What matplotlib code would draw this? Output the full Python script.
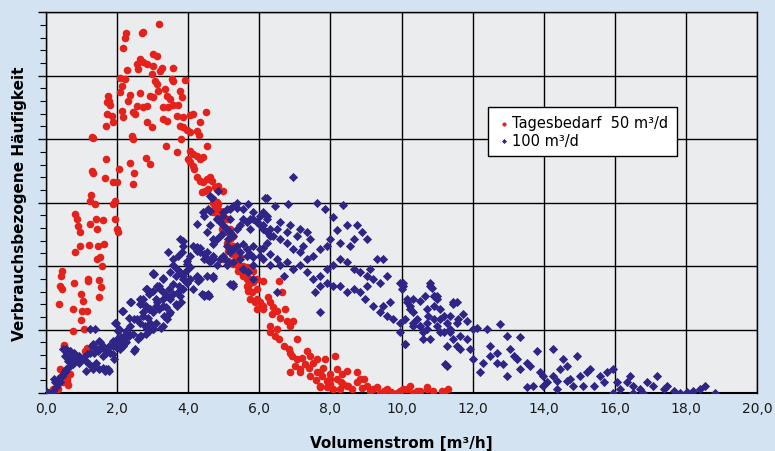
import matplotlib
matplotlib.use("Agg")
import matplotlib.pyplot as plt
from matplotlib.ticker import MultipleLocator, FixedLocator

# Tagesbedarf 50 m3/d  (x = Volumenstrom, y = relative Haeufigkeit)
red_x = [3.18, 2.25, 2.22, 2.73, 2.70, 2.17, 3.01, 3.12, 2.64, 2.56, 2.73, 2.59, 2.84, 3.01, 3.26, 3.57,
         3.21, 2.28, 2.08, 2.22, 2.98, 3.07, 3.12, 3.54, 3.57, 3.91, 2.14, 2.08, 1.74, 1.77, 1.72, 1.80,
         2.36, 2.31, 2.56, 2.64, 2.73, 2.84, 2.93, 3.01, 3.15, 3.35, 3.40, 3.49, 3.57, 3.77, 3.83, 3.71,
         3.29, 3.43, 1.72, 1.86, 1.88, 1.69, 2.14, 2.17, 2.45, 2.50, 3.29, 3.40, 2.84, 2.98, 3.68, 3.85,
         4.05, 4.14, 3.77, 3.85, 3.97, 4.05, 4.50, 4.33, 4.25, 4.30, 1.32, 1.30, 2.42, 2.45, 3.38, 3.68,
         3.80, 4.05, 4.14, 4.25, 4.33, 4.42, 4.53, 4.00, 4.05, 4.14, 2.81, 2.93, 2.36, 1.69, 1.29, 1.32,
         2.05, 2.00, 1.88, 1.66, 2.48, 2.45, 4.16, 4.25, 4.33, 4.42, 4.53, 4.61, 4.67, 4.39, 4.47, 4.56,
         4.75, 4.84, 4.98, 4.70, 4.81, 4.75, 4.84, 1.27, 1.24, 1.38, 1.94, 1.88, 1.94, 2.00, 2.03, 0.82,
         0.87, 0.90, 0.96, 1.41, 1.43, 1.60, 1.24, 0.96, 0.82, 1.21, 1.63, 1.46, 1.52, 1.58, 1.43, 0.45,
         0.42, 0.39, 0.45, 0.37, 1.18, 1.18, 0.79, 0.98, 1.04, 1.01, 1.15, 0.98, 1.49, 1.55, 1.49, 0.76,
         0.76, 1.07, 0.51, 1.15, 1.10, 0.68, 0.59, 0.62, 0.45, 0.34, 0.11, 0.51, 0.68, 0.56, 0.59, 0.48,
         0.20, 0.31, 0.39,
         4.70, 4.84, 4.98, 4.95, 5.09, 5.18, 5.26, 5.12, 5.23, 5.37, 5.46, 5.40, 5.54, 5.65, 5.74, 5.65,
         5.82, 5.94, 5.68, 5.74, 5.88, 5.94, 4.71, 4.80, 4.89, 4.99, 5.08, 5.18, 5.27, 5.08, 5.22, 5.32,
         5.46, 4.99, 5.13, 5.27, 5.41, 5.55, 5.64, 5.74, 5.83, 5.46, 5.55, 5.64, 5.74, 5.93, 6.11, 6.54,
         6.63, 5.69, 5.79, 5.93, 6.02, 6.11, 6.25, 6.30, 6.39, 6.49, 6.72, 6.96, 6.77, 6.86, 6.58, 6.35,
         6.11, 6.30, 6.44, 6.54, 6.68, 6.82, 7.05, 6.91, 7.05, 7.19, 7.33, 7.43, 7.00, 7.14, 7.29, 7.52,
         7.61, 7.76, 7.90, 7.99, 8.13, 8.18, 8.32, 8.36, 8.50, 7.71, 6.86, 6.30, 6.49,
         9.86, 9.96, 10.15, 10.33, 10.52, 10.71, 10.89, 11.13, 11.32, 9.58, 9.40, 9.21, 9.02, 8.93, 8.74,
         8.46, 8.27, 8.18, 8.08, 7.90, 7.71, 8.46, 7.85, 7.61, 7.71, 7.43, 7.14, 6.86, 8.74, 8.83,
         10.04, 10.24, 10.43, 10.71, 11.18, 8.00, 8.60, 8.90, 9.10, 9.30, 9.50, 9.70, 8.30, 7.60, 7.40,
         7.80, 8.00]
red_y = [5.82, 5.67, 5.59, 5.69, 5.67, 5.43, 5.34, 5.31, 5.26, 5.18, 5.21, 5.10, 5.18, 5.15, 5.12, 5.12,
         5.07, 5.09, 4.96, 4.94, 5.02, 4.91, 4.87, 4.94, 4.91, 4.93, 4.83, 4.74, 4.68, 4.60, 4.58, 4.54,
         4.69, 4.60, 4.52, 4.72, 4.50, 4.52, 4.68, 4.66, 4.76, 4.79, 4.68, 4.63, 4.54, 4.76, 4.66, 4.54,
         4.50, 4.50, 4.39, 4.36, 4.27, 4.20, 4.44, 4.35, 4.42, 4.39, 4.31, 4.28, 4.27, 4.19, 4.36, 4.35,
         4.38, 4.39, 4.20, 4.19, 4.14, 4.11, 4.42, 4.27, 4.13, 4.06, 4.02, 4.04, 4.05, 4.00, 3.89, 3.80,
         4.00, 3.81, 3.76, 3.73, 3.69, 3.72, 3.89, 3.69, 3.64, 3.57, 3.70, 3.61, 3.62, 3.69, 3.50, 3.46,
         3.53, 3.32, 3.32, 3.39, 3.46, 3.29, 3.53, 3.40, 3.34, 3.32, 3.37, 3.40, 3.34, 3.17, 3.18, 3.21,
         3.24, 3.26, 3.18, 3.06, 3.01, 2.93, 2.98, 3.12, 3.02, 2.98, 3.02, 2.98, 2.74, 2.58, 2.54, 2.82,
         2.74, 2.63, 2.54, 2.74, 2.58, 2.72, 2.66, 2.31, 2.22, 2.33, 2.35, 2.31, 2.14, 2.00, 2.11, 1.92,
         1.84, 1.69, 1.64, 1.40, 1.80, 1.76, 1.73, 1.56, 1.45, 1.29, 1.29, 1.15, 1.78, 1.67, 1.51, 1.32,
         0.98, 1.01, 0.74, 0.71, 0.66, 0.30, 0.17, 0.13, 0.25, 0.06, 0.02, 0.76, 0.54, 0.27, 0.22, 0.17,
         0.06, 0.11, 0.38,
         2.85, 2.77, 2.74, 2.58, 2.54, 2.43, 2.31, 2.24, 2.19, 2.11, 2.00, 1.92, 1.87, 1.83, 1.80, 1.69,
         1.75, 1.64, 1.61, 1.48, 1.43, 1.32, 3.00, 2.95, 2.87, 2.79, 2.74, 2.58, 2.48, 2.37, 2.27, 2.22,
         2.14, 2.11, 2.08, 2.03, 2.00, 2.00, 1.98, 1.95, 1.93, 1.93, 1.85, 1.80, 1.74, 1.80, 1.77, 1.77,
         1.59, 1.66, 1.59, 1.48, 1.43, 1.37, 1.51, 1.43, 1.35, 1.30, 1.32, 1.14, 1.14, 1.06, 1.19, 1.24,
         1.32, 0.96, 0.90, 0.85, 0.74, 0.69, 0.85, 0.59, 0.54, 0.56, 0.67, 0.59, 0.43, 0.38, 0.46, 0.48,
         0.33, 0.27, 0.19, 0.22, 0.59, 0.38, 0.30, 0.14, 0.11, 0.09, 0.33, 1.06, 1.01,
         0.01, 0.04, 0.06, 0.01, 0.04, 0.06, 0.04, 0.04, 0.06, 0.06, 0.01, 0.06, 0.11, 0.22, 0.17,
         0.11, 0.06, 0.22, 0.06, 0.09, 0.11, 0.35, 0.54, 0.54, 0.33, 0.27, 0.33, 0.64, 0.33, 0.22,
         0.06, 0.11, 0.04, 0.09, 0.02, 0.14, 0.06, 0.08, 0.03, 0.10, 0.04, 0.02, 0.18, 0.20, 0.40,
         0.40, 0.30]

# 100 m3/d
blue_x = [0.19, 0.28, 0.38, 0.23, 0.42, 0.52, 0.56, 0.66, 0.75, 0.61, 0.70, 0.84, 0.94, 1.03, 0.80, 0.56,
          0.66, 0.94, 1.13, 1.22, 1.31, 1.41, 1.50, 1.59, 1.69, 1.78, 1.36, 1.45, 1.55, 1.64, 1.31, 1.50,
          1.69, 1.88, 1.92, 1.97, 2.06, 2.16, 2.25, 2.20, 2.34, 2.44, 2.48, 2.58, 2.67, 2.81, 2.91, 3.00,
          2.77, 2.63, 2.48, 2.34, 2.16, 2.39, 2.63, 2.81, 2.91, 3.00, 2.72, 3.09, 3.19, 3.38, 3.47, 3.33,
          3.23, 3.09, 2.86, 1.97, 2.06, 2.25, 2.11, 1.88, 1.78, 1.59, 1.31, 1.13, 3.05, 3.28, 3.66, 3.84,
          3.75, 3.94, 3.56, 3.47, 3.19, 3.00, 3.09, 3.28, 3.56, 3.70, 3.80, 3.66, 2.91, 2.72, 2.81,
          3.44, 3.58, 3.72, 3.86, 3.82, 3.96, 4.05, 4.14, 4.24, 4.33, 4.43, 4.52, 4.61, 4.71, 4.24, 4.43,
          4.61, 4.66, 4.80, 4.89, 4.99, 5.08, 5.18, 5.27, 5.36, 5.46, 5.18, 4.99, 5.08, 5.27, 5.36, 5.55,
          5.64, 5.74, 5.83, 5.93, 6.02, 6.11, 6.21, 6.30, 6.11, 6.21, 5.69, 6.16, 3.58, 3.68, 3.77, 3.86,
          4.05, 4.14, 4.24, 4.33, 4.52, 4.71, 4.43, 4.57, 3.96, 4.05, 3.49, 3.30, 3.02, 5.27, 4.80, 4.99,
          5.08, 5.18, 5.36, 5.55, 5.64, 5.74, 5.83, 5.55, 5.69, 5.83, 6.02, 6.11, 6.30, 6.49, 4.71, 4.80,
          4.94, 5.13,
          6.94, 6.21, 6.44, 6.81, 7.61, 7.85, 8.36, 8.08, 8.18, 8.46, 8.74, 8.88, 9.02, 8.65, 8.55, 8.27,
          7.99, 7.89, 7.71, 7.52, 7.33, 7.14, 6.96, 6.77, 6.58, 6.39, 6.21, 6.02, 5.83, 5.64, 5.46, 5.27,
          5.08, 4.89, 4.71, 4.52, 4.43, 5.74, 5.93, 6.11, 6.30, 6.58, 6.86, 7.14, 7.33, 7.43, 7.24, 7.05,
          6.77, 6.49, 6.21, 6.02, 5.83, 5.55, 5.36, 5.18, 4.99, 4.80, 4.61, 4.52, 4.71, 4.89, 5.08, 5.27,
          5.46, 6.58, 6.77, 6.96, 7.14, 7.33, 7.52, 7.71, 7.89, 8.08, 8.27, 8.46, 8.65, 8.83, 9.02, 9.21,
          9.40, 9.58, 9.49, 9.30, 9.11, 9.02, 8.83, 8.97, 9.21, 9.40, 9.58, 9.77, 9.96, 9.96, 10.05, 10.14,
          10.24, 10.33, 10.43, 10.52, 10.71, 10.90, 10.80, 10.90, 10.99, 11.08, 11.18, 11.27, 11.36, 11.46,
          11.55, 11.27, 11.46, 11.60, 10.80, 11.08, 9.96, 10.10, 10.33, 10.61, 9.49, 9.68, 8.65, 8.46,
          8.27, 8.08, 7.89, 7.71, 7.57, 7.71, 6.96, 6.68, 6.49, 6.30, 6.11, 5.83, 5.55, 5.27, 4.71, 4.52,
          4.43,
          10.05, 10.00, 10.15, 10.33, 10.52, 10.24, 10.10, 10.33, 10.52, 10.71, 10.61, 10.10, 10.80, 10.85,
          10.90, 10.99, 10.66, 10.71, 10.75, 10.90, 11.08, 10.99, 11.18, 11.27, 11.22, 11.46, 11.55, 11.36,
          11.74, 11.83, 11.65, 11.83, 12.02, 12.12, 12.40, 11.55, 11.36, 11.65, 11.93, 12.02, 12.21, 12.30,
          12.49, 12.68, 12.77, 12.96, 13.05, 13.15, 13.33, 13.24, 13.33, 13.52, 13.61, 13.52, 13.71, 13.80,
          13.90, 13.99, 14.08, 14.27, 14.27, 14.46, 14.55, 14.65, 14.74, 14.83, 14.93, 15.02, 15.21, 15.30,
          15.40, 15.58, 15.68, 15.77, 15.96, 16.05, 16.15, 16.33, 16.43, 16.52, 16.71, 16.90, 17.08, 17.18,
          17.37, 17.46, 17.65, 17.84, 18.03, 18.21, 18.40, 18.54, 18.82, 12.49, 12.68, 12.86, 12.96, 14.36,
          15.11, 15.96, 16.52, 16.80, 14.36, 13.99, 14.65,
          3.77, 3.85, 4.25, 4.33, 3.01, 4.84, 4.61, 4.42, 4.56, 5.18, 4.39, 4.56, 4.25, 4.28,
          0.03, 0.20, 0.25, 0.34, 0.45, 0.53,
          0.49, 0.58, 0.68, 0.53, 0.77, 0.86, 0.96, 1.05, 1.14, 1.24, 1.28, 1.43, 1.52, 1.61, 1.71, 1.75,
          1.66, 1.80, 1.89, 1.99, 2.08, 2.18, 2.27, 2.36, 2.13, 1.94, 2.03, 2.08, 2.50, 1.24, 1.38,
          2.83, 2.93, 3.11, 3.21, 3.30, 3.39, 3.49, 2.64, 2.78, 2.93, 3.11, 3.30, 3.49, 3.68, 2.36, 2.55,
          2.74, 2.93, 2.64, 2.83, 3.02, 3.30, 3.39, 3.77, 3.86, 3.96]
blue_y = [0.01, 0.09, 0.17, 0.22, 0.27, 0.33, 0.38, 0.43, 0.46, 0.51, 0.56, 0.54, 0.59, 0.56, 0.64, 0.69,
          0.67, 0.48, 0.51, 0.46, 0.43, 0.48, 0.38, 0.40, 0.38, 0.35, 0.64, 0.67, 0.72, 0.69, 0.77, 0.82,
          0.64, 0.61, 0.54, 0.72, 0.77, 0.75, 0.80, 0.88, 0.90, 0.93, 0.67, 0.85, 0.90, 0.93, 0.98, 1.01,
          1.06, 1.11, 1.17, 1.19, 1.30, 1.43, 1.40, 1.38, 1.32, 1.27, 1.27, 1.38, 1.32, 1.35, 1.24, 1.22,
          1.03, 1.11, 1.19, 1.11, 1.01, 0.98, 0.88, 0.82, 0.75, 0.59, 0.38, 0.35, 1.87, 1.82, 1.85, 1.80,
          1.69, 1.93, 1.72, 1.64, 1.69, 1.61, 1.48, 1.48, 1.56, 1.59, 1.43, 1.40, 1.56, 1.48, 1.64,
          2.22, 2.11, 2.16, 2.40, 2.22, 2.08, 2.16, 2.32, 2.24, 2.29, 2.19, 2.11, 2.06, 2.11, 2.66, 2.79,
          2.87, 3.08, 2.74, 2.69, 2.64, 2.58, 2.53, 2.48, 2.58, 2.64, 2.74, 2.85, 2.90, 2.95, 3.00, 2.74,
          2.69, 2.58, 2.74, 2.69, 2.64, 2.58, 2.53, 2.48, 2.85, 2.79, 2.98, 3.08, 2.01, 1.95, 1.90, 1.85,
          1.80, 1.64, 1.85, 1.80, 1.85, 1.82, 1.53, 1.53, 2.03, 1.98, 1.90, 1.80, 1.87, 1.69, 2.01, 2.16,
          2.08, 2.22, 2.32, 2.35, 2.27, 2.19, 2.14, 1.95, 1.90, 1.80, 2.16, 2.29, 2.19, 2.11, 2.35, 2.43,
          2.50, 2.43,
          3.41, 3.08, 2.95, 2.98, 2.99, 2.90, 2.96, 2.77, 2.57, 2.65, 2.64, 2.53, 2.43, 2.43, 2.32, 2.37,
          2.43, 2.32, 2.27, 2.16, 2.11, 2.22, 2.27, 2.37, 2.43, 2.48, 2.37, 2.27, 2.32, 2.16, 2.11, 2.06,
          2.01, 2.11, 2.16, 2.22, 2.11, 2.74, 2.69, 2.64, 2.58, 2.69, 2.64, 2.58, 2.53, 2.43, 2.32, 2.48,
          2.53, 2.58, 2.74, 2.79, 2.85, 2.90, 2.92, 2.90, 2.79, 2.74, 2.64, 2.53, 2.43, 2.48, 2.32, 2.27,
          2.22, 2.01, 2.06, 1.95, 2.01, 1.90, 1.80, 1.85, 1.95, 2.01, 2.11, 2.06, 1.95, 1.90, 1.85, 1.80,
          1.74, 1.85, 2.11, 2.11, 1.95, 1.69, 1.59, 1.48, 1.38, 1.27, 1.22, 1.17, 1.11, 1.74, 1.69, 1.48,
          1.38, 1.27, 1.17, 1.06, 1.11, 1.17, 1.69, 1.53, 1.48, 1.32, 1.22, 1.11, 0.96, 0.85,
          0.75, 0.43, 1.43, 1.17, 0.85, 0.96, 0.96, 0.77, 1.06, 0.96, 1.38, 1.43, 1.64, 1.59,
          1.69, 1.69, 1.74, 1.69, 1.59, 1.27, 1.95, 1.85, 1.59, 2.01, 2.11, 2.01, 1.95, 1.72, 1.85, 1.54,
          1.54,
          1.74, 1.64, 1.43, 1.48, 1.45, 1.32, 1.17, 1.11, 1.06, 1.01, 0.85, 0.77, 1.74, 1.66,
          1.53, 1.53, 1.53, 1.32, 1.22, 1.38, 1.17, 1.06, 0.96, 0.75, 0.46, 1.40, 1.43, 1.22,
          1.24, 1.14, 0.90, 0.85, 1.01, 1.03, 1.01, 1.11, 1.01, 0.69, 0.69, 0.54, 0.33, 0.48,
          0.59, 0.64, 1.09, 0.90, 0.69, 0.59, 0.88, 0.54, 0.38, 0.48, 0.43, 0.09, 0.12, 0.67,
          0.33, 0.27, 0.17, 0.69, 0.27, 0.38, 0.54, 0.43, 0.22, 0.12, 0.59, 0.27, 0.33, 0.38,
          0.12, 0.27, 0.17, 0.33, 0.38, 0.17, 0.06, 0.17, 0.27, 0.12, 0.06, 0.17, 0.12, 0.27,
          0.06, 0.12, 0.04, 0.01, 0.02, 0.04, 0.06, 0.12, 0.01, 0.75, 0.48, 0.46, 0.27, 0.06,
          0.12, 0.01, 0.01, 0.01, 0.19, 0.12, 0.19,
          2.43, 2.31, 2.30, 2.22, 1.89, 3.18, 3.10, 2.85, 2.90, 1.72, 1.56, 1.56, 1.83, 1.76,
          0.02, 0.03, 0.17, 0.22, 0.27, 0.35,
          0.69, 0.64, 0.67, 0.59, 0.54, 0.59, 0.51, 0.56, 0.61, 0.64, 0.75, 0.69, 0.80, 0.75, 0.69, 0.38,
          0.35, 0.64, 0.75, 0.85, 0.80, 0.90, 0.96, 1.43, 1.30, 1.11, 0.98, 0.69, 0.69, 1.01, 1.01,
          1.64, 1.59, 1.69, 1.64, 1.59, 1.53, 1.48, 1.48, 1.38, 1.32, 1.43, 1.38, 1.27, 1.38, 1.06, 1.17,
          1.22, 1.11, 0.90, 1.01, 1.01, 1.06, 1.17, 1.53, 1.64, 1.74]

x_ticks = [0, 2, 4, 6, 8, 10, 12, 14, 16, 18, 20]
x_labels = ["0,0", "2,0", "4,0", "6,0", "8,0", "10,0", "12,0", "14,0", "16,0", "18,0", "20,0"]

fig = plt.figure(figsize=(7.75, 4.52), dpi=100)
fig.patch.set_facecolor("#d3e3f2")
ax = fig.add_axes([0.0594, 0.128, 0.9175, 0.843])
ax.set_facecolor("#ebeced")

ax.scatter(red_x, red_y, s=30, marker="o", color="#e5211b", linewidths=0, label="Tagesbedarf  50 m³/d", zorder=3)
ax.scatter(blue_x, blue_y, s=22, marker="D", color="#2e2586", linewidths=0, label="100 m³/d", zorder=4)

ax.set_xlim(0, 20)
ax.set_ylim(0, 6)
ax.xaxis.set_major_locator(FixedLocator(x_ticks))
ax.set_xticklabels(x_labels)
ax.yaxis.set_major_locator(MultipleLocator(1))
ax.yaxis.set_minor_locator(MultipleLocator(0.2))
ax.set_yticklabels([])
ax.tick_params(axis="x", length=0, pad=6, labelsize=10, colors="#1a1a1a")
ax.tick_params(axis="y", which="major", length=6, width=1, color="black")
ax.tick_params(axis="y", which="minor", length=4, width=0.8, color="black")
ax.grid(True, which="major", color="black", linewidth=1.0, zorder=1)
ax.set_axisbelow(True)
for sp in ax.spines.values():
    sp.set_color("black")
    sp.set_linewidth(1.0)
ax.spines["bottom"].set_linewidth(1.5)

ax.set_xlabel("Volumenstrom [m³/h]", fontsize=11, fontweight="bold", labelpad=14)
ax.set_ylabel("Verbrauchsbezogene Häufigkeit", fontsize=11, fontweight="bold", labelpad=4)

leg = ax.legend(loc="upper left", bbox_to_anchor=(0.622, 0.752), borderaxespad=0.0,
                frameon=True, fancybox=False, fontsize=10.5, markerscale=0.55,
                handletextpad=0.0, handlelength=1.0, borderpad=0.6, labelspacing=0.15)
leg.get_frame().set_edgecolor("black")
leg.get_frame().set_linewidth(1.0)
leg.get_frame().set_facecolor("white")
leg.get_frame().set_alpha(1)

fig.savefig("out.png", dpi=100, facecolor=fig.get_facecolor())
